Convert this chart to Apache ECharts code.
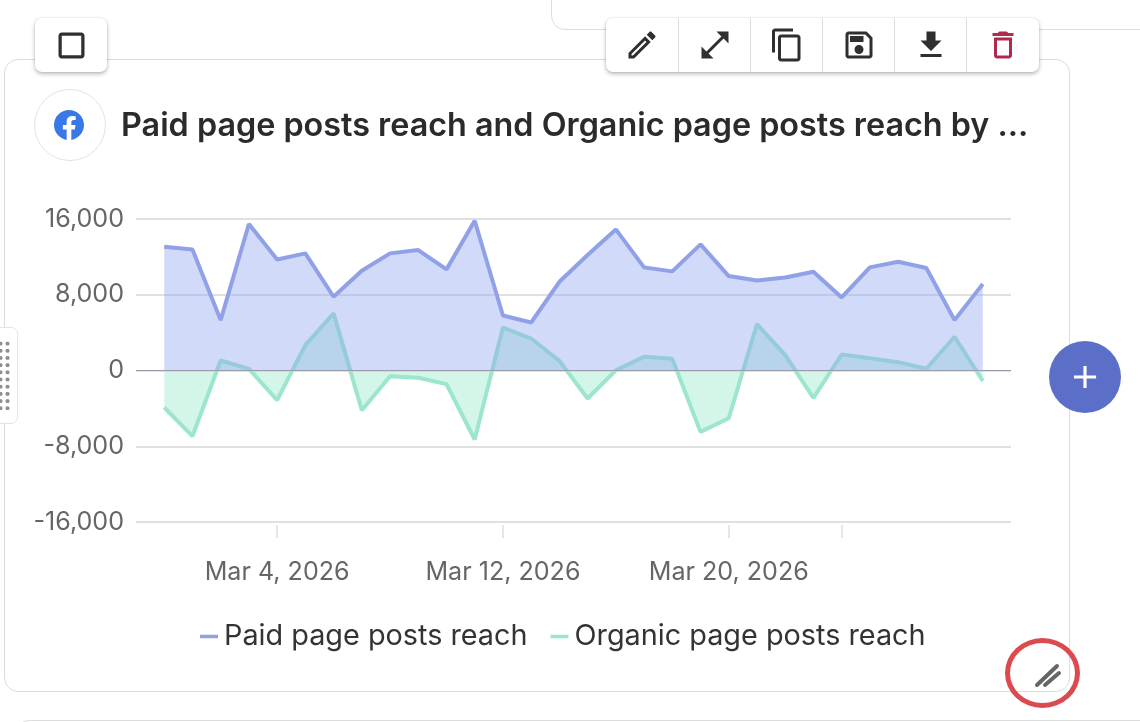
<!DOCTYPE html>
<html>
<head>
<meta charset="utf-8">
<title>Reach dashboard card</title>
<script src="https://cdn.jsdelivr.net/npm/echarts@6/dist/echarts.min.js"></script>
<style>
  html, body { margin: 0; padding: 0; width: 1140px; height: 722px; overflow: hidden; background: #fff; font-family: Inter, sans-serif; }
  .abs { position: absolute; box-sizing: border-box; }
  #neighbor { left: 551px; top: -40px; width: 640px; height: 70px; border: 1px solid #dedede; border-radius: 14px; }
  #nextRow { left: 15px; top: 720px; width: 1200px; height: 40px; border: 1px solid #dedede; border-radius: 14px; }
  #card { left: 4px; top: 59px; width: 1066px; height: 633px; border: 1px solid #dcdcdc; border-radius: 14px; background: #fff; }
  #chart { left: 0; top: 0; width: 1140px; height: 722px; }
  .bar { background: #fff; border-radius: 7px; box-shadow: 0 2px 4px rgba(0,0,0,.28), 0 0 2px rgba(0,0,0,.12); display: flex; top: 18px; height: 54px; }
  .bar .btn { width: 72px; height: 54px; display: flex; align-items: center; justify-content: center; border-left: 1px solid #dcdcdc; box-sizing: border-box; }
  .bar .btn:first-child { border-left: 0; }
  .bar svg { width: 36px; height: 36px; fill: #2f2f2f; }
  .bar svg.wide { width: 39px; height: 39px; }
  #logo { left: 34px; top: 89px; width: 72px; height: 72px; border: 1px solid #e2e2e2; border-radius: 50%; display: flex; align-items: center; justify-content: center; }
  #logo svg { width: 30px; height: 30px; fill: #3b78e7; margin-left: -2px; }
  #title { left: 121px; top: 104px; font-size: 32.35px; line-height: 42px; font-weight: 600; color: #2b2b2b; white-space: nowrap; }
  #handle { left: -8px; top: 327px; width: 26px; height: 97px; border: 1px solid #e4e4e4; border-radius: 7px; background: #fff; }
  #dots { left: -3px; top: 340px; width: 14px; height: 70px; background-image: radial-gradient(circle, #8f8f8f 1.8px, transparent 2.3px); background-size: 7px 7.2px; }
  #add { left: 1049px; top: 341px; width: 72px; height: 72px; border-radius: 50%; background: #5b6fc8; display: flex; align-items: center; justify-content: center; }
  #add svg { width: 38px; height: 38px; fill: #fff; }
  #ring { left: 1005px; top: 638px; width: 75px; height: 70px; border: 5px solid #dc4a50; border-radius: 50%; }
  #grip { left: 1030px; top: 660px; width: 34px; height: 32px; }
</style>
</head>
<body>
<div class="abs" id="neighbor"></div>
<div class="abs" id="nextRow"></div>
<div class="abs" id="card"></div>
<div class="abs" id="chart"></div>

<div class="abs bar" style="left:35px;width:72px;">
  <div class="btn"><svg class="wide" viewBox="0 0 24 24"><path d="M18 4H6c-1.1 0-2 .9-2 2v12c0 1.1.9 2 2 2h12c1.1 0 2-.9 2-2V6c0-1.1-.9-2-2-2zm0 14H6V6h12v12z"/></svg></div>
</div>
<div class="abs bar" style="left:606px;width:433px;">
  <div class="btn"><svg viewBox="0 0 24 24"><path d="M3 17.25V21h3.75L17.81 9.94l-3.75-3.75L3 17.25zM5.92 19H5v-.92l9.06-9.06.92.92L5.92 19zM20.71 5.63l-2.34-2.34c-.2-.2-.45-.29-.71-.29s-.51.1-.7.29l-1.83 1.83 3.75 3.75 1.83-1.83c.39-.39.39-1.02 0-1.41z"/></svg></div>
  <div class="btn"><svg viewBox="0 0 24 24"><path d="M21 11V3h-8l3.29 3.29-10 10L3 13v8h8l-3.29-3.29 10-10z"/></svg></div>
  <div class="btn"><svg viewBox="0 0 24 24"><path d="M16 1H4c-1.1 0-2 .9-2 2v14h2V3h12V1zm3 4H8c-1.1 0-2 .9-2 2v14c0 1.1.9 2 2 2h11c1.1 0 2-.9 2-2V7c0-1.1-.9-2-2-2zm0 16H8V7h11v14z"/></svg></div>
  <div class="btn"><svg viewBox="0 0 24 24"><path d="M17 3H5c-1.11 0-2 .9-2 2v14c0 1.1.89 2 2 2h14c1.1 0 2-.9 2-2V7l-4-4zm2 16H5V5h11.17L19 7.83V19zm-7-7c-1.66 0-3 1.34-3 3s1.34 3 3 3 3-1.34 3-3-1.34-3-3-3zM6 6h9v4H6z"/></svg></div>
  <div class="btn"><svg viewBox="0 0 24 24"><path d="M19 9h-4V3H9v6H5l7 7 7-7zM5 18v2h14v-2H5z"/></svg></div>
  <div class="btn"><svg viewBox="0 0 24 24" style="fill:#b02a4e"><path d="M6 19c0 1.1.9 2 2 2h8c1.1 0 2-.9 2-2V7H6v12zM8 9h8v10H8V9zm7.5-5l-1-1h-5l-1 1H5v2h14V4z"/></svg></div>
</div>

<div class="abs" id="logo"><svg viewBox="0 0 24 24"><path d="M24 12.073c0-6.627-5.373-12-12-12s-12 5.373-12 12c0 5.99 4.388 10.954 10.125 11.854v-8.385H7.078v-3.47h3.047V9.43c0-3.007 1.792-4.669 4.533-4.669 1.312 0 2.686.235 2.686.235v2.953H15.83c-1.491 0-1.956.925-1.956 1.874v2.25h3.328l-.532 3.47h-2.796v8.385C19.612 23.027 24 18.062 24 12.073z"/></svg></div>
<div class="abs" id="title">Paid page posts reach and Organic page posts reach by ...</div>

<div class="abs" id="handle"></div>
<div class="abs" id="dots"></div>
<div class="abs" id="add"><svg viewBox="0 0 24 24"><path d="M19 13h-6v6h-2v-6H5v-2h6V5h2v6h6v2z"/></svg></div>
<svg class="abs" id="grip" viewBox="0 0 34 32"><path d="M7 25 L27 6 M15 25 L29 13" stroke="#666" stroke-width="4" stroke-linecap="round" fill="none"/></svg>
<div class="abs" id="ring"></div>

<script>
  // Category axis runs one empty day past each end of the data
  const axisDays = [
    'Feb 27, 2026', 'Feb 28, 2026', 'Mar 1, 2026', 'Mar 2, 2026', 'Mar 3, 2026', 'Mar 4, 2026',
    'Mar 5, 2026', 'Mar 6, 2026', 'Mar 7, 2026', 'Mar 8, 2026', 'Mar 9, 2026', 'Mar 10, 2026',
    'Mar 11, 2026', 'Mar 12, 2026', 'Mar 13, 2026', 'Mar 14, 2026', 'Mar 15, 2026', 'Mar 16, 2026',
    'Mar 17, 2026', 'Mar 18, 2026', 'Mar 19, 2026', 'Mar 20, 2026', 'Mar 21, 2026', 'Mar 22, 2026',
    'Mar 23, 2026', 'Mar 24, 2026', 'Mar 25, 2026', 'Mar 26, 2026', 'Mar 27, 2026', 'Mar 28, 2026',
    'Mar 29, 2026', 'Mar 30, 2026'
  ];
  // Daily reach, Feb 28 to Mar 29, 2026
  const paidReach = [
    13070, 12790, 5320, 15470, 11730, 12370, 7790, 10540, 12370, 12720,
    10680, 15820, 5810, 5070, 9370, 12190, 14900, 10890, 10470, 13320,
    9970, 9510, 9830, 10430, 7720, 10890, 11490, 10820, 5320, 9130
  ];
  const organicReach = [
    -3910, -6940, 1060, 180, -3130, 2680, 6030, -4190, -600, -770,
    -1440, -7290, 4540, 3380, 1020, -2960, 30, 1440, 1230, -6480,
    -5040, 4900, 1620, -2890, 1690, 1300, 880, 180, 3560, -1090
  ];
  const yTicks = { min: -16000, max: 16000, step: 8000 };
  const tickDays = ['Mar 4, 2026', 'Mar 12, 2026', 'Mar 20, 2026', 'Mar 24, 2026'];
  const labelDays = ['Mar 4, 2026', 'Mar 12, 2026', 'Mar 20, 2026'];
  const paidName = 'Paid page posts reach';
  const organicName = 'Organic page posts reach';

  const withBlanks = values => [null, ...values, null];

  const chart = echarts.init(document.getElementById('chart'), null, { renderer: 'canvas' });
  chart.setOption({
    animation: false,
    backgroundColor: 'transparent',
    textStyle: { fontFamily: 'Inter' },
    grid: { left: 136, right: 129, top: 219, bottom: 200 },
    legend: {
      left: 195, top: 617,
      icon: 'rect', itemWidth: 18, itemHeight: 3.5, itemGap: 23,
      textStyle: { fontFamily: 'Inter', fontSize: 28.8, color: '#333', padding: [0, 0, 0, 1] },
      data: [paidName, organicName]
    },
    xAxis: {
      type: 'category',
      data: axisDays,
      boundaryGap: false,
      offset: 3,
      splitLine: { show: false },
      axisLine: { show: false, onZero: false },
      axisTick: {
        show: true, length: 13, alignWithLabel: true,
        interval: (i, day) => tickDays.includes(day),
        lineStyle: { color: '#dedede', width: 1.5 }
      },
      axisLabel: {
        interval: (i, day) => labelDays.includes(day),
        margin: 35,
        fontFamily: 'Inter', fontSize: 25.1, color: '#666'
      }
    },
    yAxis: {
      type: 'value',
      min: yTicks.min, max: yTicks.max, interval: yTicks.step,
      axisLine: { show: false },
      axisTick: { show: false },
      splitLine: { lineStyle: { color: '#d6d6d6', width: 1.5 } },
      axisLabel: {
        margin: 12,
        padding: [2, 0, 0, 0],
        fontFamily: 'Inter', fontSize: 25.1, color: '#666',
        formatter: v => v.toLocaleString('en-US')
      }
    },
    series: [
      {
        // Paid sits above organic where the two areas overlap
        name: paidName, type: 'line', data: withBlanks(paidReach), z: 4,
        showSymbol: false,
        color: '#90a1e8',
        lineStyle: { width: 4, color: '#90a1e8' },
        areaStyle: { color: '#8fa3f0', opacity: 0.4 },
        markLine: {
          silent: true, symbol: 'none', label: { show: false },
          lineStyle: { color: '#9c9cae', width: 1, type: 'solid' },
          data: [{ yAxis: 0 }]
        }
      },
      {
        name: organicName, type: 'line', data: withBlanks(organicReach), z: 3,
        showSymbol: false,
        color: '#9be6cc',
        lineStyle: { width: 4, color: '#9be6cc' },
        areaStyle: { color: '#92e9c9', opacity: 0.4 }
      }
    ]
  });
</script>
</body>
</html>
